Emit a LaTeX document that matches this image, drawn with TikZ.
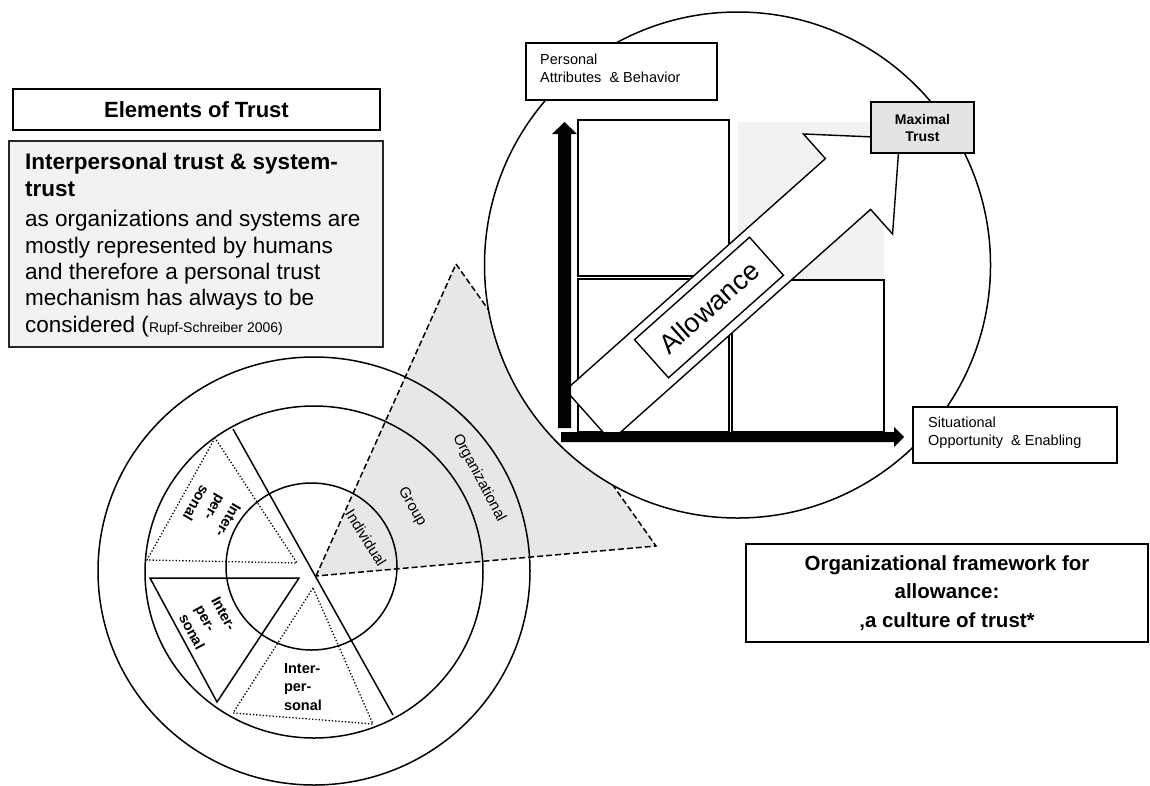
\documentclass[tikz,border=0pt]{standalone}
\usepackage{fontspec}
\setmainfont{Liberation Sans}
\newcommand{\myfs}[2]{\fontsize{#1}{#2}\selectfont}
\definecolor{panelgray}{HTML}{F2F2F2}
\definecolor{wedgegray}{HTML}{E7E7E7}
\definecolor{maxgray}{HTML}{E4E4E4}
\begin{document}
\begin{tikzpicture}[x=1pt,y=-1pt,
  ring/.style={draw=black, line width=1.5pt},
  dotline/.style={draw=black, line width=1.3pt, dotted},
  dashline/.style={draw=black, line width=1.5pt, dash pattern=on 6pt off 3pt},
  gridbox/.style={draw=black, line width=1.4pt, fill=white},
  textbox/.style={draw=black, line width=1.4pt, fill=white, inner sep=0pt},
  tlabel/.style={inner sep=0pt, font=\bfseries\myfs{14.5}{18.3}, align=left},
  ringlabel/.style={inner sep=0pt, font=\myfs{15}{18}},
  plain/.style={inner sep=0pt, anchor=base west},
]
\useasboundingbox (0,0) rectangle (1150,785);

% ---------- shaded sector of the ring model ----------
\coordinate (wa) at (316,576);
\coordinate (wt) at (456,264);
\coordinate (wr) at (656,546);
\fill[wedgegray] (wa) -- (wt) -- (wr) -- cycle;
\draw[dashline] (wa) -- (wt) -- (wr) -- cycle;

% ---------- ring model ----------
\coordinate (oc) at (314,571);
\coordinate (mc) at (314,572);
\coordinate (ic) at (311.5,566.5);
\draw[ring] (oc) ellipse [x radius=216pt, y radius=214pt];
\draw[ring] (mc) ellipse [x radius=169pt, y radius=166pt];
\draw[ring] (ic) ellipse [x radius=85.5pt, y radius=83.5pt];

\coordinate (div1) at (233,429);
\coordinate (div2) at (393,715);
\draw[ring] (div1) -- (div2);

\draw[dotline] (215,438) -- (147,560) -- (297,563) -- cycle;
\draw[ring, line join=miter] (150,578) -- (299,578) -- (217,702) -- cycle;
\draw[dotline] (313,588) -- (233,713) -- (373,724) -- cycle;

\node[tlabel, rotate=-120] (ip1) at (212,512) {Inter-\\per-\\sonal};
\node[tlabel, rotate=-62] (ip2) at (208,623) {Inter-\\per-\\sonal};
\node[tlabel] (ip3) at (303,687) {Inter-\\per-\\sonal};

\node[ringlabel, rotate=-58] (lind) at (366,538) {Individual};
\node[ringlabel, rotate=-60] (lgrp) at (412,507) {Group};
\node[ringlabel, rotate=-62] (lorg) at (479,478) {Organizational};

% ---------- allowance matrix ----------
\coordinate (rc) at (737.5,265);
\draw[ring, fill=white] (rc) circle [radius=253pt];

\fill[panelgray] (738,122) rectangle (884,280);
\draw[gridbox] (578,120) rectangle (729,276);
\draw[gridbox] (578,279) rectangle (729,432);
\draw[gridbox] (732,280) rectangle (884,432);

\begin{scope}[shift={(848,184)}, rotate=41.7]
  \draw[line width=1.4pt, fill=white, line join=miter]
    (-348,-34) -- (0,-34) -- (0,-67) -- (69,0) -- (0,67) -- (0,34) -- (-348,34) -- cycle;
\end{scope}
\node[textbox, rotate=41.7, minimum width=154pt, minimum height=51pt,
      font=\myfs{27}{30}] (allow) at (709,307.5) {Allowance};

% axes
\fill[black] (558,428) -- (558,134) -- (552,134) -- (564.5,122) -- (577,134)
  -- (571,134) -- (571,428) -- cycle;
\fill[black] (561,432) -- (894,432) -- (894,427) -- (904,437) -- (894,447)
  -- (894,442) -- (561,442) -- cycle;

\node[textbox, minimum width=191pt, minimum height=57pt] (pbox) at (621.5,71.5) {};
\node[inner sep=0pt, anchor=west, align=left, font=\myfs{14.5}{18}] (ptext) at (540,68)
  {Personal\\Attributes\ \ \& Behavior};

\node[textbox, minimum width=204pt, minimum height=56pt] (sbox) at (1015,435) {};
\node[inner sep=0pt, anchor=west, align=left, font=\myfs{14.5}{18}] (stext) at (928,433)
  {Situational\\Opportunity\ \ \& Enabling};

\node[textbox, fill=maxgray, minimum width=103pt, minimum height=51pt, align=center,
      font=\bfseries\myfs{14}{17}] (maxt) at (922.5,127.5) {Maximal\\Trust};

% ---------- left text panels ----------
\node[textbox, minimum width=367pt, minimum height=41pt, font=\bfseries\myfs{22}{26}]
  (elements) at (196.5,109.5) {Elements of Trust};

\node[draw=black!85, line width=1.8pt, fill=panelgray, inner sep=0pt,
      minimum width=374pt, minimum height=206pt] (panel) at (196,244) {};
\node[plain, font=\bfseries\myfs{22.5}{26}] (pl1) at (25,169) {Interpersonal trust \& system-};
\node[plain, font=\bfseries\myfs{22.5}{26}] (pl2) at (25,196) {trust};
\node[plain, font=\myfs{22.5}{26}] (pl3) at (25,226) {as organizations and systems are};
\node[plain, font=\myfs{22.5}{26}] (pl4) at (25,253) {mostly represented by humans};
\node[plain, font=\myfs{22.5}{26}] (pl5) at (25,279) {and therefore a personal trust};
\node[plain, font=\myfs{22.5}{26}] (pl6) at (25,305) {mechanism has always to be};
\node[plain, font=\myfs{22.5}{26}] (pl7) at (25,332) {considered ({\myfs{14}{16}Rupf-Schreiber 2006)}};

% ---------- framework box ----------
\node[textbox, minimum width=402pt, minimum height=98pt, align=center,
      font=\bfseries\myfs{20.5}{28.5}] (frame) at (947,593)
  {Organizational framework for\\allowance:\\‚a culture of trust*};
\end{tikzpicture}
\end{document}
